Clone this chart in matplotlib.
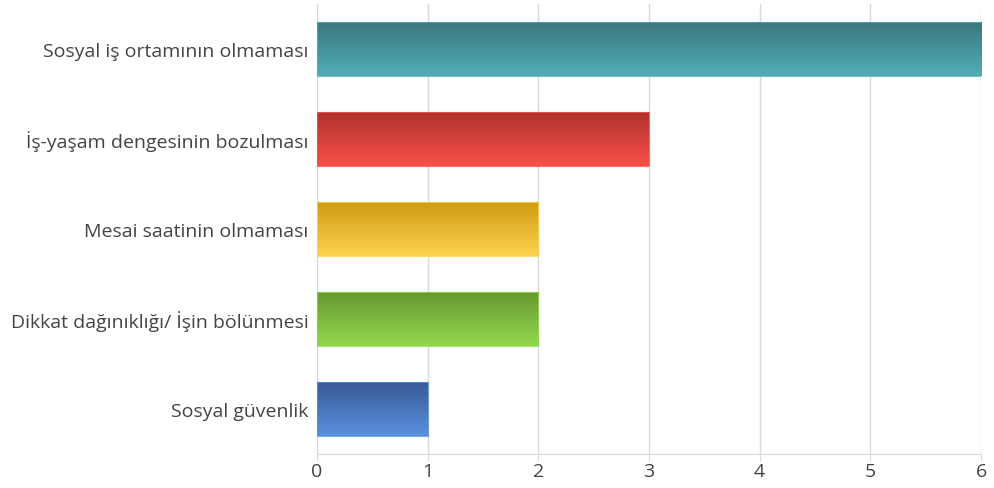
import matplotlib.pyplot as plt
import matplotlib.colors as mcolors
import numpy as np

categories = [
    "Sosyal iş ortamının olmaması",
    "İş-yaşam dengesinin bozulması",
    "Mesai saatinin olmaması",
    "Dikkat dağınıklığı/ İşin bölünmesi",
    "Sosyal güvenlik",
]
values = [6, 3, 2, 2, 1]
# (top colour, bottom colour) of each bar's gradient
bar_colors = [
    ("#3a777c", "#52adb7"),
    ("#ae332e", "#fa5048"),
    ("#cf9c12", "#fdd34f"),
    ("#679830", "#92d84f"),
    ("#395996", "#5a91df"),
]
xticks = [0, 1, 2, 3, 4, 5, 6]

plt.rcParams['font.family'] = ['Open Sans', 'DejaVu Sans']
fig = plt.figure(figsize=(9.94, 4.89), dpi=100)
ax = fig.add_axes([317 / 994, 34 / 489, 664 / 994, 450 / 489])

y = np.arange(len(categories))
bars = ax.barh(y, values, height=0.6, color='none', edgecolor='none', zorder=3)

for patch, (c_top, c_bot) in zip(bars, bar_colors):
    x0, y0 = patch.get_x(), patch.get_y()
    w, h = patch.get_width(), patch.get_height()
    cmap = mcolors.LinearSegmentedColormap.from_list('g', [c_top, c_bot])
    grad = np.linspace(0, 1, 64).reshape(-1, 1)
    im = ax.imshow(grad, cmap=cmap, aspect='auto', extent=(x0, x0 + w, y0 + h, y0),
                   origin='upper', zorder=3, interpolation='bicubic')
    im.set_clip_path(patch)
    ax.add_patch(plt.Rectangle((x0, y0), w, h, fill=False,
                               edgecolor=mcolors.to_rgba(c_bot, 0.8), lw=0.8, zorder=4))

ax.set_xlim(0, 6)
ax.set_ylim(len(categories) - 0.5, -0.5)
ax.set_xticks(xticks)
ax.set_xticklabels([str(t) for t in xticks], fontsize=14, color='#444444')
ax.set_yticks(y)
ax.set_yticklabels(categories, fontsize=14, color='#444444')
ax.grid(axis='x', color='#d9d9d9', lw=1, zorder=0)
ax.set_axisbelow(True)
for s in ['top', 'right']:
    ax.spines[s].set_visible(False)
ax.spines['left'].set_color('#d9d9d9')
ax.spines['bottom'].set_color('#d9d9d9')
ax.tick_params(axis='y', length=0, pad=6)
ax.tick_params(axis='x', length=5, color='#d9d9d9', pad=1)

plt.savefig('out.png', dpi=100)
